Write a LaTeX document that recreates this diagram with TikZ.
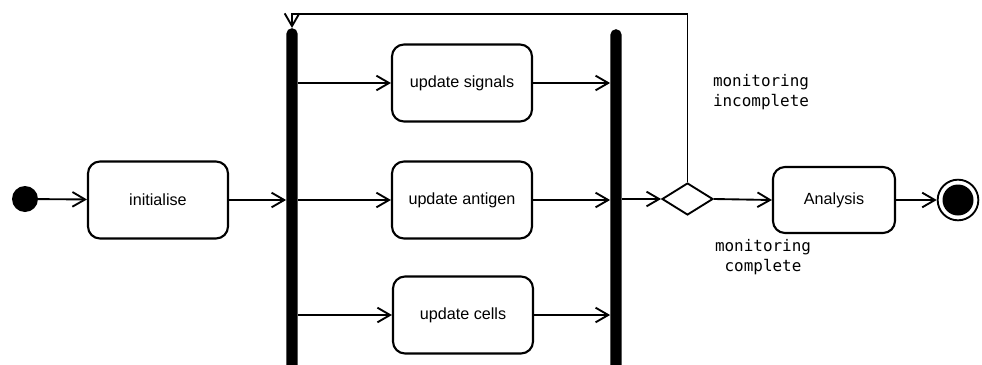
\documentclass[tikz,border=0pt]{standalone}
\usepackage{fontspec}
\setsansfont{Liberation Sans}
\setmonofont{DejaVu Sans Mono}
\usetikzlibrary{arrows.meta,shapes.geometric}

\begin{document}
\begin{tikzpicture}[x=0.03cm, y=-0.03cm, >={Straight Barb[length=3.8mm,width=4.4mm]},
  act/.style={draw, line width=1.8pt, rounded corners=0.36cm, minimum width=4.2cm,
    minimum height=2.31cm, font=\sffamily\fontsize{13.8}{16}\selectfont},
  bar/.style={fill, inner sep=0pt, minimum width=0.34cm, minimum height=10.4cm, rounded corners=0.17cm},
  flow/.style={->, line width=1.6pt},
  guard/.style={font=\ttfamily\fontsize{13.6}{17}\selectfont, align=center}]
  \useasboundingbox (0,0) rectangle (982,365);
  \node[circle, fill, inner sep=0pt, minimum size=0.78cm] (start) at (25,199) {};
  \node[act] (init) at (158,200) {initialise};
  % fork and join bars run off the bottom edge
  \node[bar] (fork) at (292,201.5) {};
  \node[bar] (join) at (616,202.5) {};
  \node[act] (sig) at (462,83) {update signals};
  \node[act] (ant) at (462,200) {update antigen};
  \node[act] (cell) at (463,315) {update cells};
  \node[diamond, draw, line width=1.6pt, inner sep=0pt, aspect=1.6,
    minimum width=1.53cm, minimum height=0.96cm] (dec) at (687.5,199) {};
  \node[act, minimum width=3.66cm, minimum height=1.98cm] (ana) at (834,200) {Analysis};
  \node[circle, draw, line width=1.6pt, inner sep=0pt, minimum size=1.22cm] (stop) at (958,200) {};
  \node[circle, fill, inner sep=0pt, minimum size=0.93cm] (stopin) at (stop) {};
  \node[guard] (incomp) at (761,92) {monitoring\\incomplete};
  \node[guard] (comp) at (763,257) {monitoring\\complete};
  \coordinate (loop) at (292,14);

  \draw[flow] (start) -- (init);
  \draw[flow] (init) -- (init -| fork.west);
  \foreach \a in {sig, ant, cell} {
    \draw[flow] (\a -| fork.east) -- (\a.west);
    \draw[flow] (\a.east) -- (\a -| join.west);
  }
  \draw[flow] (join.east |- dec) -- (dec.west);
  \draw[flow] (dec.north) |- (loop) -- (fork.north);
  \draw[flow] (dec.east) -- (ana.west);
  \draw[flow] (ana.east) -- (stop.west);
\end{tikzpicture}
\end{document}
